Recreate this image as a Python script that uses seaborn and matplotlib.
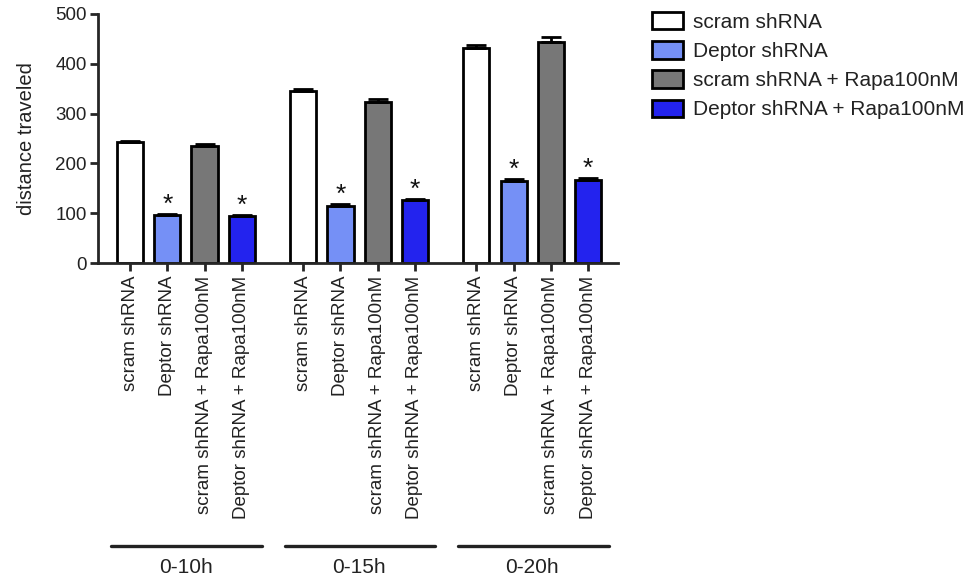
import numpy as np
import pandas as pd
import matplotlib
matplotlib.use("Agg")
import matplotlib.pyplot as plt
import matplotlib.patches as patches
import matplotlib.transforms as mtransforms
import seaborn as sns

# values
time_windows = ['0-10h', '0-15h', '0-20h']
conditions = ['scram shRNA', 'Deptor shRNA', 'scram shRNA + Rapa100nM', 'Deptor shRNA + Rapa100nM']
means = [
    [242, 97, 235, 95],
    [345, 115, 323, 126],
    [431, 165, 443, 167],
]
sems = [
    [3, 2, 4, 2],
    [4, 3, 6, 3],
    [7, 4, 10, 3],
]
signif = [False, True, False, True]
colors = ['#ffffff', '#7590f6', '#777777', '#2323ee']

# layout
group_step = 4.65
rows = []
for g, tw in enumerate(time_windows):
    for i, cond in enumerate(conditions):
        rows.append({'xpos': g * group_step + i, 'time': tw, 'condition': cond,
                     'value': means[g][i], 'sem': sems[g][i], 'star': signif[i]})
df = pd.DataFrame(rows)

sns.set_style("ticks")
plt.rcParams['font.family'] = ['Liberation Sans', 'DejaVu Sans']

fig = plt.figure(figsize=(9.72, 5.83), dpi=100)
ax = fig.add_axes([98 / 972, 1 - 263 / 583, (618 - 98) / 972, (263 - 14) / 583])

sns.barplot(data=df, x='xpos', y='value', hue='condition', hue_order=conditions,
            palette=colors, saturation=1, native_scale=True, dodge=False, width=0.7,
            edgecolor='black', linewidth=2, errorbar=None, legend=False, ax=ax)

# upper error bars only
ax.errorbar(df['xpos'], df['value'], yerr=[np.zeros(len(df)), df['sem']],
            fmt='none', ecolor='black', elinewidth=2, capsize=7, capthick=2, zorder=5)

# significance stars
for _, r in df[df['star']].iterrows():
    ax.text(r['xpos'], r['value'] + r['sem'] + 4, '*', ha='center', va='baseline',
            fontsize=19, color='#111111')

ax.set_xlim(-0.86, 2 * group_step + 3 + 0.8)
ax.set_ylim(0, 500)
ax.set_yticks([0, 100, 200, 300, 400, 500])
ax.set_xticks(df['xpos'])
ax.set_xticklabels(df['condition'], rotation=90, fontsize=13.5, color='#222222')
ax.tick_params(axis='y', labelsize=13.5, labelcolor='#222222', width=2, length=6, pad=2)
ax.tick_params(axis='x', width=2, length=6, pad=3)
ax.set_xlabel('')
ax.set_ylabel('distance traveled', fontsize=14.5, color='#222222', labelpad=14)
for s in ['left', 'bottom']:
    ax.spines[s].set_linewidth(2)
sns.despine(ax=ax)

# group lines and labels under the tick labels
trans = mtransforms.blended_transform_factory(ax.transData, fig.transFigure)
for g, tw in enumerate(time_windows):
    x0 = g * group_step
    ax.plot([x0 - 0.5, x0 + 3.55], [0.064, 0.064], color='#222222', lw=2.4,
            transform=trans, clip_on=False)
    ax.text(x0 + 1.5, 0.027, tw, ha='center', va='center', fontsize=15,
            color='#222222', transform=trans)

handles = [patches.Patch(facecolor=c, edgecolor='black', linewidth=2, label=l)
           for c, l in zip(colors, conditions)]
fig.legend(handles=handles, loc='upper left', bbox_to_anchor=(652 / 972, 1 - 12 / 583),
           frameon=False, fontsize=15, handlelength=1.5, handleheight=0.9,
           handletextpad=0.45, labelspacing=0.45, borderpad=0, borderaxespad=0,
           labelcolor='#222222')

fig.savefig('out.png', dpi=100)
